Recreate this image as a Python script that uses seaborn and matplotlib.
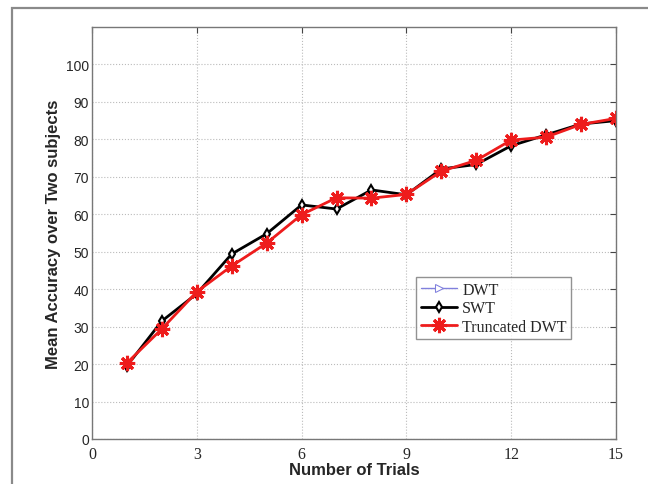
import matplotlib
matplotlib.use("Agg")
import matplotlib.pyplot as plt
import seaborn as sns
import pandas as pd
from matplotlib.patches import Rectangle

trials = [1, 2, 3, 4, 5, 6, 7, 8, 9, 10, 11, 12, 13, 14, 15]
swt = [19.5, 31.5, 38.8, 49.4, 54.8, 62.5, 61.4, 66.5, 65.2, 72.1, 73.3, 78.3, 81.2, 84.1, 85.0]
trunc_dwt = [20.3, 29.4, 39.3, 46.2, 52.3, 59.9, 64.4, 64.3, 65.3, 71.5, 74.4, 79.8, 80.6, 84.0, 85.6]
dwt = [20.3, 29.4, 39.3, 46.2, 52.3, 59.9, 64.4, 64.3, 65.3, 71.5, 74.4, 79.8, 80.6, 84.0, 85.6]
xticks = [0, 3, 6, 9, 12, 15]
yticks = [0, 10, 20, 30, 40, 50, 60, 70, 80, 90, 100]

sns.set_style("white")

df = pd.DataFrame({"trial": trials, "DWT": dwt, "SWT": swt, "Truncated DWT": trunc_dwt})

fig = plt.figure(figsize=(6.48, 4.85), dpi=100)
ax = fig.add_axes([92/648, 45/485, 524/648, 412/485])

# outer frame
fig.patches.append(Rectangle((12/648, -0.1), 1.2, (485-9)/485 + 0.1, transform=fig.transFigure,
                             fill=False, edgecolor="#8a8a8a", linewidth=1.6, zorder=0))

sns.lineplot(data=df, x="trial", y="DWT", ax=ax, color="#8080dd", linewidth=1.0,
             marker=">", markersize=6, markerfacecolor="white", markeredgecolor="#8080dd",
             label="DWT")
sns.lineplot(data=df, x="trial", y="SWT", ax=ax, color="black", linewidth=2.0,
             marker="d", markersize=5.5, markerfacecolor="white", markeredgecolor="black",
             markeredgewidth=1.5, label="SWT")
sns.lineplot(data=df, x="trial", y="Truncated DWT", ax=ax, color="#ee1c1c", linewidth=2.0,
             marker=(8, 2, 0), markersize=11, markerfacecolor="#ee1c1c", markeredgecolor="#ee1c1c",
             markeredgewidth=2.2, label="Truncated DWT")

ax.set_xlim(0, 15)
ax.set_ylim(0, 110)
ax.set_xticks(xticks)
ax.set_yticks(yticks)
ax.set_xticklabels([str(t) for t in xticks], family="Liberation Serif", fontsize=11.5)
ax.set_yticklabels([str(t) for t in yticks], family="Liberation Sans", fontsize=10)
ax.tick_params(direction="in", top=True, right=True, length=4, width=0.8, color="#444444")
ax.tick_params(axis="x", pad=5)
ax.tick_params(axis="y", pad=2)
ax.grid(True, linestyle=":", color="#bbbbbb", linewidth=0.8)
for s in ax.spines.values():
    s.set_color("#777777")
    s.set_linewidth(1.0)

ax.set_xlabel("Number of Trials", family="Liberation Sans", fontweight="bold", fontsize=12, labelpad=0)
ax.set_ylabel("Mean Accuracy over Two subjects", family="Liberation Sans", fontweight="bold",
              fontsize=12, labelpad=4)

leg = ax.legend(loc="upper left", bbox_to_anchor=(0.618, 0.393), frameon=True, fancybox=False,
                edgecolor="#777777", prop={"family": "Liberation Serif", "size": 11.5},
                handlelength=2.3, borderpad=0.3, labelspacing=0.15, handletextpad=0.3,
                borderaxespad=0)
leg.get_frame().set_linewidth(1.0)

fig.savefig("out.png", dpi=100)
